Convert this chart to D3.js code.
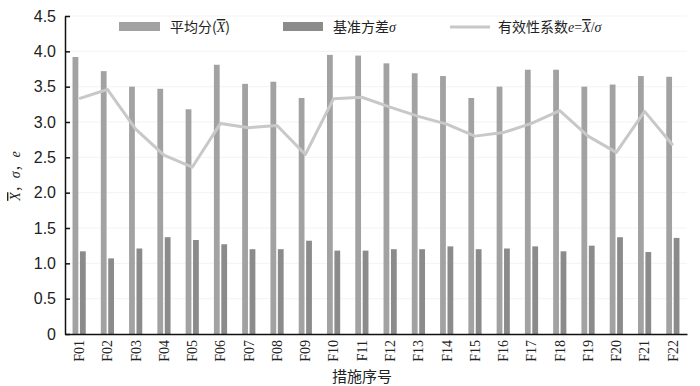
<html>
<head>
<meta charset="utf-8">
<title>措施有效性</title>
<style>
  html, body { margin: 0; padding: 0; background: #fff; }
  svg text { fill: #222; }
</style>
</head>
<body>
<svg id="viz"></svg>
<script src="https://cdn.jsdelivr.net/npm/d3@7"></script>
<script>
// measures F01..F22
var categories = ["F01","F02","F03","F04","F05","F06","F07","F08","F09","F10","F11",
                  "F12","F13","F14","F15","F16","F17","F18","F19","F20","F21","F22"];
// mean score (X bar)
var meanScore = [3.92,3.72,3.50,3.47,3.18,3.81,3.54,3.57,3.34,3.95,3.94,
                 3.83,3.69,3.65,3.34,3.50,3.74,3.74,3.50,3.53,3.65,3.64];
// reference deviation sigma
var sigmaVals = [1.17,1.07,1.21,1.37,1.33,1.27,1.20,1.20,1.32,1.18,1.18,
                 1.20,1.20,1.24,1.20,1.21,1.24,1.17,1.25,1.37,1.16,1.36];
// effectiveness coefficient e
var effVals = [3.33,3.46,2.90,2.53,2.36,2.98,2.92,2.95,2.54,3.33,3.35,
               3.21,3.08,2.97,2.80,2.85,2.98,3.16,2.80,2.57,3.15,2.67];
var yTicks = [0,0.5,1.0,1.5,2.0,2.5,3.0,3.5,4.0,4.5];

var width = 700, height = 386;
// note: "top" is reserved on window, so use plot* names
var plotLeft = 65, plotRight = 687, plotTop = 16, plotBottom = 334;

var svg = d3.select("#viz").attr("width", width).attr("height", height)
    .style("font-family", "'Liberation Sans', Arial, sans-serif");

var x = d3.scaleBand().domain(categories).range([plotLeft, plotRight]).padding(0);
var bw = x.bandwidth();
var x1 = d3.scaleBand().domain(["mean","sigma"]).range([bw/2 - 6.6, bw/2 + 6.6]).paddingInner(0.22);
var y = d3.scaleLinear().domain([0, 4.5]).range([plotBottom, plotTop]);

// very faint grid
svg.append("g").selectAll("line")
    .data(yTicks.slice(1))
    .enter().append("line")
    .attr("x1", plotLeft).attr("x2", plotRight)
    .attr("y1", function(d) { return y(d); })
    .attr("y2", function(d) { return y(d); })
    .attr("stroke", "#f3f3f3").attr("stroke-width", 1);

// bars
var grp = svg.append("g").selectAll("g")
    .data(categories)
    .enter().append("g")
    .attr("transform", function(d) { return "translate(" + x(d) + ",0)"; });

grp.append("rect")
    .attr("x", x1("mean"))
    .attr("width", x1.bandwidth())
    .attr("y", function(d, i) { return y(meanScore[i]); })
    .attr("height", function(d, i) { return plotBottom - y(meanScore[i]); })
    .attr("fill", "#a2a2a2");

grp.append("rect")
    .attr("x", x1("sigma"))
    .attr("width", x1.bandwidth())
    .attr("y", function(d, i) { return y(sigmaVals[i]); })
    .attr("height", function(d, i) { return plotBottom - y(sigmaVals[i]); })
    .attr("fill", "#8b8b8b");

// e line
var line = d3.line()
    .x(function(d, i) { return x(categories[i]) + bw/2; })
    .y(function(d) { return y(d); });

svg.append("path")
    .datum(effVals)
    .attr("d", line)
    .attr("fill", "none")
    .attr("stroke", "#c8c8c8")
    .attr("stroke-width", 3)
    .attr("stroke-linejoin", "round");

// y axis
var yAxis = d3.axisLeft(y).tickValues(yTicks).tickSizeInner(-5).tickSizeOuter(0)
    .tickFormat(function(d) { return d === 0 ? "0" : d3.format(".1f")(d); });
var ya = svg.append("g").attr("transform", "translate(" + plotLeft + ",0)").call(yAxis);
ya.select(".domain").attr("stroke", "#111").attr("stroke-width", 1.5);
ya.selectAll(".tick line").attr("stroke", "#111").attr("stroke-width", 1.5);
ya.selectAll(".tick text")
    .attr("x", -9)
    .style("font-size", "16px")
    .style("font-family", "'Liberation Sans', Arial, sans-serif")
    .attr("fill", "#222");

// x axis
var xAxis = d3.axisBottom(x).tickSize(0);
var xa = svg.append("g").attr("transform", "translate(0," + plotBottom + ")").call(xAxis);
xa.select(".domain").attr("stroke", "#111").attr("stroke-width", 1.5);
xa.selectAll(".tick text")
    .attr("transform", "rotate(-90)")
    .attr("x", -6).attr("y", 0).attr("dy", "0.35em")
    .style("text-anchor", "end")
    .style("font-size", "14px")
    .style("font-family", "'Liberation Serif', 'Times New Roman', serif")
    .attr("fill", "#222");

// axis titles
svg.append("text")
    .attr("x", 362).attr("y", 382)
    .attr("text-anchor", "middle")
    .style("font-size", "15px")
    .style("font-family", "'Noto Sans CJK SC', sans-serif")
    .text("措施序号");

var yt = svg.append("text")
    .attr("transform", "translate(20,176) rotate(-90)")
    .attr("text-anchor", "middle")
    .style("font-size", "14px")
    .style("font-family", "'Liberation Serif', serif")
    .style("font-style", "italic");
yt.append("tspan").style("text-decoration", "overline").text("X");
yt.append("tspan").style("font-style", "normal").style("font-family", "'Noto Sans CJK SC', sans-serif").text("，");
yt.append("tspan").text("σ");
yt.append("tspan").style("font-style", "normal").style("font-family", "'Noto Sans CJK SC', sans-serif").text("，");
yt.append("tspan").text("e");

// legend
var legend = svg.append("g");
legend.append("rect").attr("x", 119).attr("y", 22).attr("width", 41).attr("height", 9).attr("fill", "#a2a2a2");
legend.append("rect").attr("x", 283).attr("y", 22).attr("width", 40).attr("height", 9).attr("fill", "#8b8b8b");
legend.append("line").attr("x1", 450).attr("x2", 490).attr("y1", 27).attr("y2", 27)
    .attr("stroke", "#c8c8c8").attr("stroke-width", 3);

var cjk = "'Noto Sans CJK SC', sans-serif";
var serif = "'Liberation Serif', serif";

var t1 = legend.append("text").attr("x", 170).attr("y", 32).style("font-size", "14px").style("font-family", cjk);
t1.append("tspan").text("平均分(");
t1.append("tspan").style("font-family", serif).style("font-style", "italic").style("text-decoration", "overline").text("X");
t1.append("tspan").text(")");

var t2 = legend.append("text").attr("x", 333).attr("y", 32).style("font-size", "14px").style("font-family", cjk);
t2.append("tspan").text("基准方差");
t2.append("tspan").style("font-family", serif).style("font-style", "italic").text("σ");

var t3 = legend.append("text").attr("x", 498).attr("y", 32).style("font-size", "14px").style("font-family", cjk);
t3.append("tspan").text("有效性系数");
t3.append("tspan").style("font-family", serif).style("font-style", "italic").text("e");
t3.append("tspan").style("font-family", serif).text("=");
t3.append("tspan").style("font-family", serif).style("font-style", "italic").style("text-decoration", "overline").text("X");
t3.append("tspan").style("font-family", serif).text("/");
t3.append("tspan").style("font-family", serif).style("font-style", "italic").text("σ");
</script>
</body>
</html>
